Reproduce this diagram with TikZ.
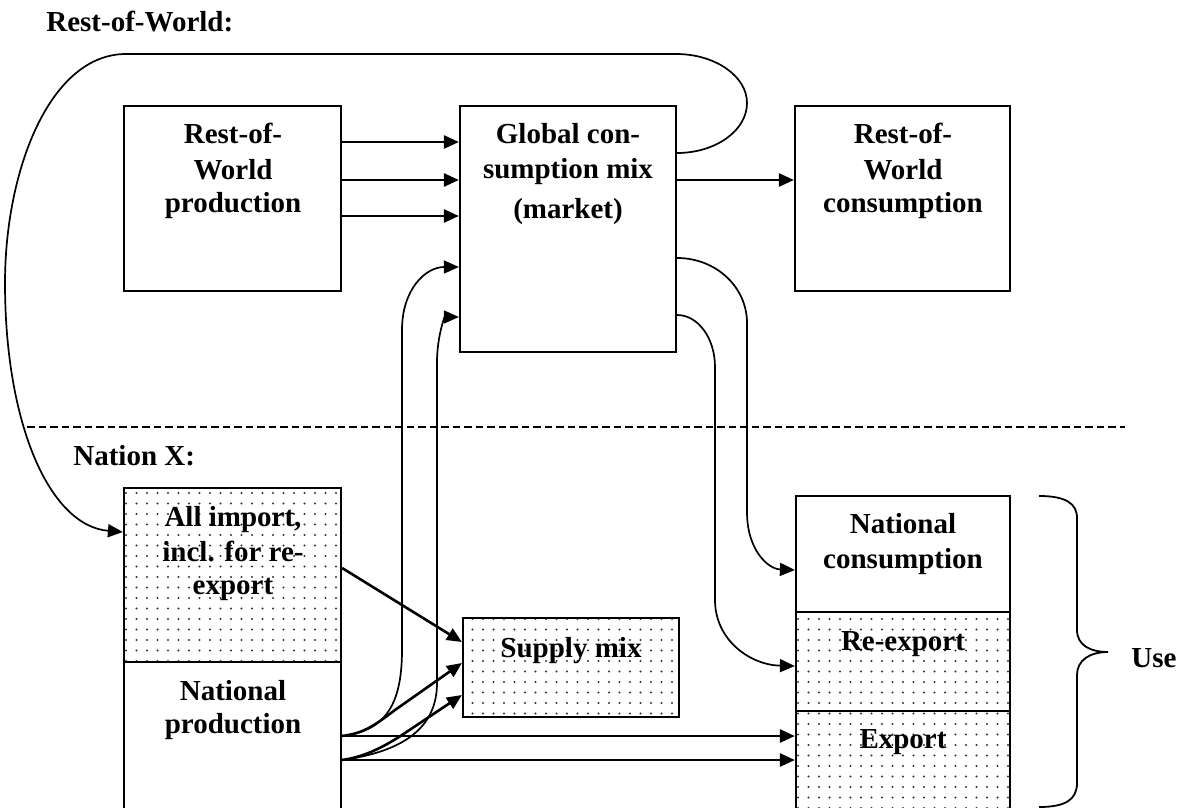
\documentclass[tikz,border=0pt]{standalone}
\usepackage{fontspec}
\setmainfont{Liberation Serif}
\usetikzlibrary{arrows.meta,patterns.meta,fit}
\begin{document}
\begin{tikzpicture}[x=0.5pt,y=-0.5pt,
  box/.style={draw, line width=1.1pt, inner sep=0pt},
  dotbox/.style={box, pattern={Dots[radius=0.6pt,distance=5.25pt]}, pattern color=black!80},
  txt/.style={font=\bfseries\fontsize{14.5}{17}\selectfont, anchor=base, inner sep=0pt},
  thickarrow/.style={line width=1.3pt, -{Triangle[length=7.5pt,width=6.5pt]}},
  thinarrow/.style={line width=0.85pt, -{Triangle[length=7.5pt,width=6.5pt]}},
]
\useasboundingbox (0,0) rectangle (1184,808);
\clip (0,0) rectangle (1184,808);

% boxes
\node[box, fit={(124,106) (341,291)}] (rwp) {};
\node[box, fit={(460,106) (676,352)}] (gcm) {};
\node[box, fit={(795,106) (1010,291)}] (rwc) {};
\node[dotbox, fit={(124,488) (341,662)}] (imp) {};
\node[box, fit={(124,662) (341,830)}] (nprod) {};
\node[dotbox, fit={(463,618) (679,717)}] (sup) {};
\node[box, fit={(796,496) (1010,612)}] (ncons) {};
\node[dotbox, fit={(796,612) (1010,711)}] (rex) {};
\node[dotbox, fit={(796,711) (1010,830)}] (exp) {};

% titles
\node[txt, anchor=base west] (trow) at (46,32) {Rest-of-World:};
\node[txt, anchor=base west] (tnat) at (73,465) {Nation X:};

% texts
\node[txt] (a1) at (233,144) {Rest-of-};
\node[txt] (a2) at (233,179) {World};
\node[txt] (a3) at (233,213) {production};
\node[txt] (b1) at (568,144) {Global con-};
\node[txt] (b2) at (568,178) {sumption mix};
\node[txt] (b3) at (568,219) {(market)};
\node[txt] (c1) at (903,144) {Rest-of-};
\node[txt] (c2) at (903,179) {World};
\node[txt] (c3) at (903,213) {consumption};
\node[txt] (d1) at (233,526) {All import,};
\node[txt] (d2) at (233,561) {incl. for re-};
\node[txt] (d3) at (233,594) {export};
\node[txt] (e1) at (233,700) {National};
\node[txt] (e2) at (233,733) {production};
\node[txt] (f1) at (571,657) {Supply mix};
\node[txt] (g1) at (903,533) {National};
\node[txt] (g2) at (903,568) {consumption};
\node[txt] (h1) at (903,650) {Re-export};
\node[txt] (i1) at (903,748) {Export};
\node[txt, anchor=base west] (use) at (1131,667) {Use};

% dashed separator
\draw[line width=0.7pt, dash pattern=on 3.75pt off 2pt] (27,427) -- (1125,427);

% RoW production -> global mix
\draw[thickarrow] (rwp.east |- 0,142) -- (gcm.west |- 0,142);
\draw[thickarrow] (rwp.east |- 0,180) -- (gcm.west |- 0,180);
\draw[thickarrow] (rwp.east |- 0,216) -- (gcm.west |- 0,216);
% global mix -> RoW consumption
\draw[thickarrow] (gcm.east |- 0,180) -- (rwc.west |- 0,180);

% global mix -> all import (big loop)
\draw[thinarrow] (gcm.east |- 0,153) .. controls (715,153) and (747,131) .. (747,103)
  .. controls (747,76) and (715,54) .. (676,54) -- (126,54)
  .. controls (50,54) and (5,170) .. (5,283)
  .. controls (5,425) and (50,526) .. (imp.west |- 0,532);

% global mix -> national consumption / re-export
\draw[thinarrow] (gcm.east |- 0,258) .. controls (716,258) and (747,287) .. (747,323)
  -- (747,512) .. controls (747,550) and (768,569) .. (ncons.west |- 0,570);
\draw[thinarrow] (gcm.east |- 0,315) .. controls (698,315) and (715,338) .. (715,367)
  -- (715,600) .. controls (715,640) and (750,665) .. (rex.west |- 0,666);

% import -> supply mix
\draw[thickarrow] (imp.east |- 0,568) -- (sup.west |- 0,642);

% national production -> global mix
\draw[thinarrow] (nprod.east |- 0,736) .. controls (385,731) and (402,705) .. (402,650)
  -- (402,330) .. controls (402,290) and (425,267) .. (gcm.west |- 0,267);
\draw[thinarrow] (nprod.east |- 0,760) .. controls (400,752) and (437,730) .. (437,683)
  -- (437,363) .. controls (437,335) and (445,317) .. (gcm.west |- 0,317);

% national production -> supply mix
\draw[thickarrow] (nprod.east |- 0,736) .. controls (365,733) and (375,725) .. (395,710) -- (sup.west |- 0,663);
\draw[thickarrow] (nprod.east |- 0,760) .. controls (365,757) and (385,746) .. (402,735) -- (sup.west |- 0,695);

% national production -> export
\draw[thickarrow] (nprod.east |- 0,736) -- (exp.west |- 0,736);
\draw[thickarrow] (nprod.east |- 0,760) -- (exp.west |- 0,760);

% brace
\draw[line width=0.9pt] (1039,496) .. controls (1065,496) and (1077,503) .. (1077,518)
  -- (1077,630) .. controls (1077,645) and (1090,652) .. (1108,652)
  .. controls (1090,652) and (1077,660) .. (1077,675)
  -- (1077,783) .. controls (1077,800) and (1065,807) .. (1039,807);
\end{tikzpicture}
\end{document}
